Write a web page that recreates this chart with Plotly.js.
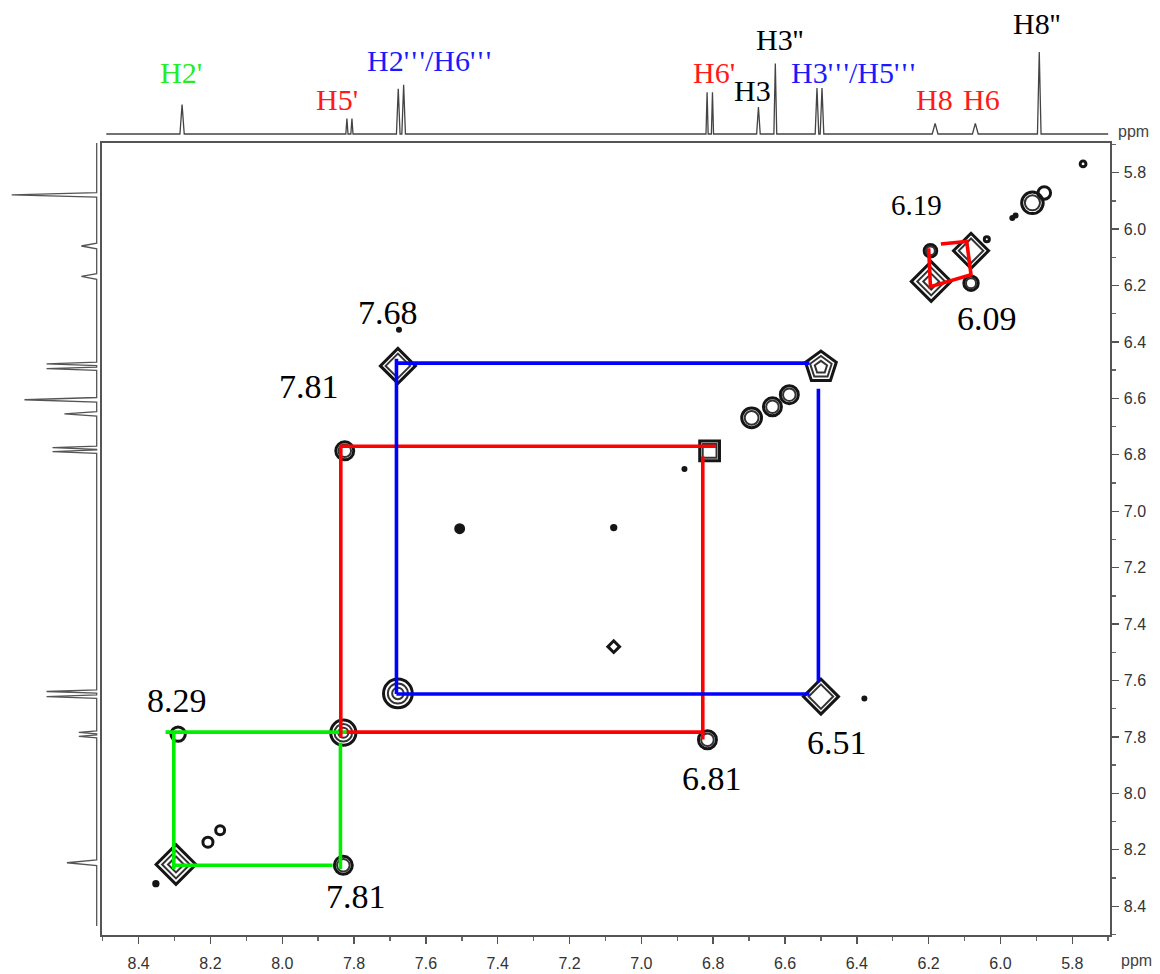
<!DOCTYPE html>
<html><head><meta charset="utf-8">
<script src="https://cdn.plot.ly/plotly-3.0.1.min.js"></script>
<style>html,body{margin:0;padding:0;background:#fff}#chart{width:1160px;height:974px}</style>
</head><body><div id="chart"></div>
<script>
// ---------- DATA (ppm) ----------
// F2 (top) 1D projection: peak positions, relative heights, half base widths
const f2Peaks   = [8.279, 7.820, 7.806, 7.677, 7.662, 6.817, 6.802, 6.674, 6.627, 6.511, 6.497, 6.182, 6.070, 5.892];
const f2Heights = [0.36, 0.19, 0.19, 0.55, 0.60, 0.51, 0.51, 0.33, 0.86, 0.56, 0.56, 0.13, 0.13, 1.00];
const f2Widths  = [0.006, 0.003, 0.003, 0.005, 0.005, 0.003, 0.003, 0.005, 0.004, 0.005, 0.005, 0.008, 0.008, 0.005];
// F1 (left) 1D projection
const f1Peaks   = [5.879, 6.060, 6.168, 6.478, 6.495, 6.605, 6.655, 6.775, 6.789, 7.639, 7.657, 7.784, 7.798, 8.246];
const f1Heights = [1.00, 0.18, 0.18, 0.59, 0.59, 0.85, 0.38, 0.52, 0.52, 0.59, 0.59, 0.21, 0.21, 0.35];
const f1Widths  = [0.008, 0.010, 0.010, 0.006, 0.006, 0.008, 0.008, 0.006, 0.006, 0.006, 0.006, 0.005, 0.005, 0.010];

// 2D COSY peaks: F2 ppm, F1 ppm, contour extent (ppm), number of contour levels
const peakF2     = [8.296, 8.290, 7.830, 7.830, 7.826, 7.678, 7.678, 6.810, 6.816, 6.500, 6.500, 6.693, 6.635, 6.588, 6.193, 6.195, 6.082, 6.082, 6.038, 5.911, 5.878, 5.770, 7.506, 7.077, 7.077, 8.173, 8.207, 8.352, 6.880, 6.379, 7.675, 5.967, 5.958];
const peakF1     = [8.252, 7.790, 7.785, 8.255, 6.786, 6.485, 7.646, 6.786, 7.810, 6.490, 7.657, 6.669, 6.630, 6.587, 6.186, 6.077, 6.077, 6.192, 6.036, 5.907, 5.872, 5.769, 7.062, 7.058, 7.480, 8.131, 8.173, 8.320, 6.850, 7.664, 6.357, 5.961, 5.952];
const peakExtent = [0.085, 0.040, 0.070, 0.050, 0.050, 0.075, 0.080, 0.055, 0.050, 0.090, 0.075, 0.055, 0.050, 0.050, 0.085, 0.035, 0.075, 0.040, 0.014, 0.060, 0.035, 0.016, 0.022, 0.012, 0.025, 0.025, 0.028, 0.012, 0.008, 0.008, 0.008, 0.008, 0.008];
const peakLevels = [3, 1, 3, 2, 2, 2, 3, 2, 2, 3, 2, 2, 2, 2, 3, 2, 2, 2, 1, 2, 1, 1, 1, 1, 1, 1, 1, 1, 1, 1, 1, 1, 1];
const peakShape  = ['diamond','circle','circle','circle','circle','diamond','circle','square','circle','pentagon','diamond','circle','circle','circle','diamond','circle','diamond','circle','circle','circle','circle','circle','dot','dot','diamond','circle','circle','dot','dot','dot','dot','dot','dot'];

// Correlation boxes (segments, ppm; null separates segments)
const greenF2 = [8.325, 7.820, null, 8.302, 8.302, null, 8.302, 7.860, null, 7.838, 7.838];
const greenF1 = [7.783, 7.783, null, 7.783, 8.268, null, 8.255, 8.255, null, 7.820, 8.268];
const redF2   = [7.840, 6.792, null, 7.837, 7.837, null, 7.821, 6.829, null, 6.829, 6.829];
const redF1   = [6.770, 6.770, null, 6.770, 7.802, null, 7.783, 7.783, null, 6.806, 7.809];
const blueF2  = [7.682, 6.532, null, 7.682, 7.682, null, 7.682, 6.532, null, 6.507, 6.507];
const blueF1  = [6.475, 6.475, null, 6.460, 7.648, null, 7.648, 7.648, null, 6.566, 7.607];
const smallRedF2 = [6.200, 6.195, 6.082, 6.094, 6.166];
const smallRedF1 = [6.068, 6.204, 6.162, 6.044, 6.053];

// Labels
const topLabels = ["H2'", "H5'", "H2'\u200a'\u200a'/H6'\u200a'\u200a'", "H6'", "H3", "H3''", "H3'\u200a'\u200a'/H5'\u200a'\u200a'", "H8", "H6", "H8''"];
const topLabelColors = ['#22ee22', '#ff1a1a', '#1a1aff', '#ff1a1a', '#000', '#000', '#1a1aff', '#ff1a1a', '#ff1a1a', '#000'];
const shiftLabels = ['7.68', '7.81', '8.29', '7.81', '6.81', '6.51', '6.19', '6.09'];
const tickVals = [8.4, 8.2, 8.0, 7.8, 7.6, 7.4, 7.2, 7.0, 6.8, 6.6, 6.4, 6.2, 6.0, 5.8];

// ---------- LAYOUT HELPERS ----------
const W = 1160, H = 974, MR = 50, MB = 39;
const PW = W - MR, PH = H - MB;
const px = x => x / PW;
const py = y => (PH - y) / PH;
const PPM_PX = 359.4;

function stick(pos, hts, wid, hi, lo) {
  const idx = pos.map((p, i) => i).sort((a, b) => pos[b] - pos[a]);
  const a = [hi], b = [0];
  idx.forEach(i => { a.push(pos[i] + wid[i], pos[i], pos[i] - wid[i]); b.push(0, hts[i], 0); });
  a.push(lo); b.push(0);
  return [a, b];
}
const [tX, tY] = stick(f2Peaks, f2Heights, f2Widths, 8.49, 5.70);
const [lY, lX] = stick(f1Peaks, f1Heights, f1Widths, 8.47, 5.685);

const ink = '#151515';
const traces = [];
traces.push({x: tX, y: tY, xaxis: 'x', yaxis: 'y2', mode: 'lines', line: {color: '#444', width: 1.3}, hoverinfo: 'skip'});
traces.push({x: lX, y: lY, xaxis: 'x3', yaxis: 'y', mode: 'lines', line: {color: '#555', width: 1.3}, hoverinfo: 'skip'});

const maxLev = Math.max(...peakLevels);
for (let k = 0; k < maxLev; k++) {
  const xs = [], ys = [], ss = [], sy = [];
  peakF2.forEach((v, i) => {
    if (peakLevels[i] > k) {
      xs.push(v); ys.push(peakF1[i]);
      ss.push(Math.max(3, peakExtent[i] * PPM_PX * (1 - 0.3 * k)));
      sy.push(peakShape[i] === 'dot' ? 'circle' : peakShape[i] + '-open');
    }
  });
  traces.push({x: xs, y: ys, mode: 'markers', hoverinfo: 'skip',
    marker: {symbol: sy, size: ss, opacity: 1, color: k === 0 ? ink : '#333',
             line: {color: ink, width: k === 0 ? 3 : 2}}});
}
const lineTrace = (x, y, c) => ({x, y, mode: 'lines', line: {color: c, width: 3.6}, hoverinfo: 'skip'});
traces.push(lineTrace(greenF2, greenF1, '#00ee00'));
traces.push(lineTrace(redF2, redF1, '#ff0000'));
traces.push(lineTrace(blueF2, blueF1, '#0000ff'));
traces.push(lineTrace(smallRedF2, smallRedF1, '#ff0000'));

const topPos = [[181, 72], [337, 100], [429, 60], [714, 72], [752, 90], [779, 40], [853, 72], [935, 100], [981, 100], [1036, 23]];
const shiftPos = [[388, 312], [309, 386], [177, 700], [356, 896], [712, 778], [837, 742], [916, 205], [987, 318]];
const shiftSize = [34, 34, 34, 34, 34, 34, 29, 34];
const serif = 'Liberation Serif, Times New Roman, serif';
const ann = [];
topLabels.forEach((t, i) => ann.push({text: t, xref: 'paper', yref: 'paper', x: px(topPos[i][0]), y: py(topPos[i][1]),
  showarrow: false, xanchor: 'center', yanchor: 'middle', font: {family: serif, size: 30, color: topLabelColors[i]}}));
shiftLabels.forEach((t, i) => ann.push({text: t, xref: 'paper', yref: 'paper', x: px(shiftPos[i][0]), y: py(shiftPos[i][1]),
  showarrow: false, xanchor: 'center', yanchor: 'middle', font: {family: serif, size: shiftSize[i], color: '#000'}}));
const sans = 'Liberation Sans, Arial, sans-serif';
ann.push({text: 'ppm', xref: 'paper', yref: 'paper', x: px(1133), y: py(131), showarrow: false, xanchor: 'center', yanchor: 'middle', font: {family: sans, size: 16, color: '#444'}});
ann.push({text: 'ppm', xref: 'paper', yref: 'paper', x: px(1136), y: py(960), showarrow: false, xanchor: 'center', yanchor: 'middle', font: {family: sans, size: 16, color: '#444'}});

const axisCommon = {
  range: [8.502, 5.695], tickvals: tickVals, ticktext: tickVals.map(v => v.toFixed(1)),
  ticks: 'outside', ticklen: 7, tickwidth: 1.4, tickcolor: '#555',
  showline: true, linecolor: '#555', linewidth: 1.6, mirror: true,
  showgrid: false, zeroline: false,
  tickfont: {family: sans, size: 16, color: '#333'},
  minor: {dtick: 0.1, tick0: 0, ticks: 'outside', ticklen: 4, tickcolor: '#666', showgrid: false}
};
const layout = {
  width: W, height: H, margin: {l: 0, r: MR, t: 0, b: MB},
  paper_bgcolor: '#fff', plot_bgcolor: '#fff', showlegend: false,
  xaxis: Object.assign({}, axisCommon, {domain: [px(102), 1], anchor: 'y', ticklabelstandoff: 6}),
  yaxis: Object.assign({}, axisCommon, {domain: [0, py(143)], anchor: 'x', side: 'right', ticklabelstandoff: 2}),
  yaxis2: {domain: [py(140), 1], range: [-0.073, 1.634], anchor: 'x', visible: false, showgrid: false, zeroline: false},
  xaxis3: {domain: [0, px(100)], range: [1.138, -0.039], anchor: 'y', visible: false, showgrid: false, zeroline: false},
  annotations: ann
};
Plotly.newPlot('chart', traces, layout, {displayModeBar: false, staticPlot: true});
</script></body></html>
